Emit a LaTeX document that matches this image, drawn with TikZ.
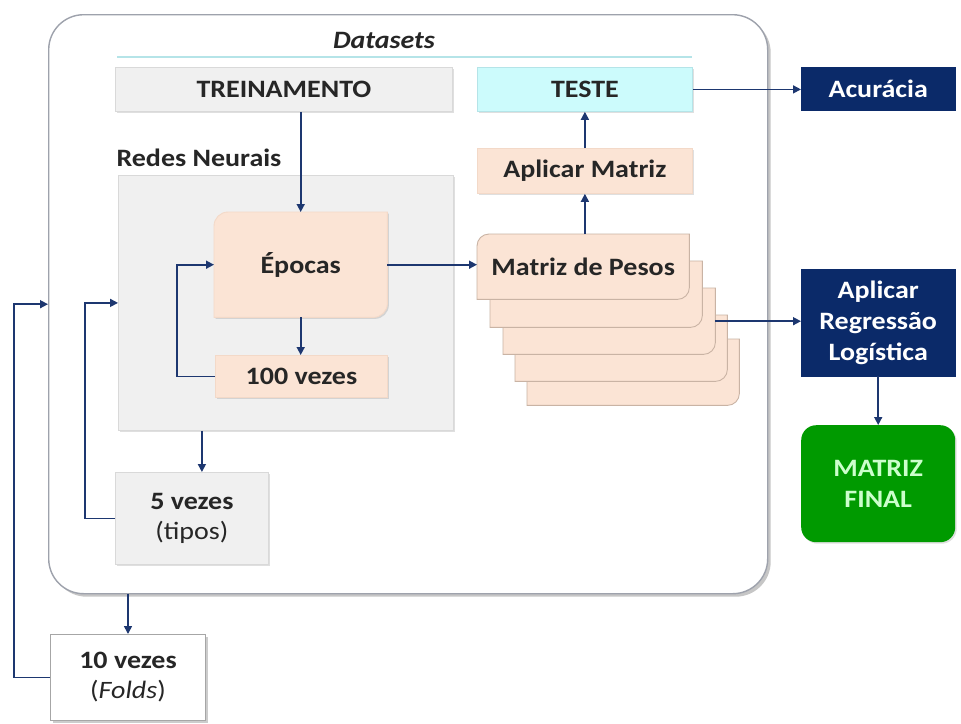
\documentclass[tikz,border=0pt]{standalone}
\usepackage{fontspec}
\setmainfont{Carlito}[FakeStretch=1.12]
\usetikzlibrary{arrows.meta,shadows,calc}
\definecolor{navy}{HTML}{0B2A69}
\definecolor{arr}{HTML}{1D3770}
\definecolor{peach}{HTML}{FBE4D5}
\definecolor{peachline}{HTML}{C9B3A4}
\definecolor{peachlight}{HTML}{F3D9C8}
\definecolor{lgray}{HTML}{F0F0F0}
\definecolor{gline}{HTML}{D9D9D9}
\definecolor{cyanf}{HTML}{CCFBFC}
\definecolor{cyanline}{HTML}{B5E4E8}
\definecolor{greenf}{HTML}{009A00}
\definecolor{greent}{HTML}{CCFFCC}
\definecolor{txt}{HTML}{262626}
\definecolor{outerline}{HTML}{9EA2AC}
\newcommand\cardshape[3]{%
  \draw[#1] (#2.south west) [rounded corners=#3] -- (#2.north west) [sharp corners] -- (#2.north east) [rounded corners=#3] -- (#2.south east) [sharp corners] -- (#2.south west) -- cycle;}
\begin{document}
\begin{tikzpicture}[x=1pt,y=-1pt,
  font=\fontsize{25}{31}\selectfont\bfseries, text=txt,
  conn/.style={arr, line width=1.6pt, -{Triangle[length=8pt,width=8pt]}},
  box/.style={rectangle, inner sep=0pt, anchor=north west, align=center},
  soft/.style={drop shadow={shadow xshift=1.5pt,shadow yshift=-1.5pt,opacity=0.25}},
  graybox/.style={box, fill=lgray, draw=gline, line width=0.8pt, soft},
  peachbox/.style={box, fill=peach, draw=peachlight, line width=0.8pt, soft},
  navybox/.style={box, fill=navy, draw=navy, text=white},
  card/.style={fill=peach, draw=peachline, line width=0.9pt},
]
\useasboundingbox (0,0) rectangle (961,723);

% outer Datasets container
\node[box, fill=white, draw=outerline, line width=1.4pt, rounded corners=35pt,
      minimum width=719pt, minimum height=579pt,
      drop shadow={shadow xshift=3pt,shadow yshift=-3pt,opacity=0.45,fill=gray}] (outer) at (48,14) {};
\node[font=\fontsize{25}{28}\selectfont\bfseries\itshape] (dstitle) at (384,40) {Datasets};
\coordinate (dl) at (117,57);
\coordinate (dr) at (692,57);
\draw[cyanline, line width=2pt] (dl) -- (dr);

% top row
\node[graybox, minimum width=337pt, minimum height=44pt] (treino) at (115,67) {TREINAMENTO};
\node[box, fill=cyanf, draw=cyanline, line width=0.8pt, soft, minimum width=215pt, minimum height=44pt] (teste) at (477,67) {TESTE};
\node[navybox, minimum width=154pt, minimum height=43pt] (acur) at (801,67) {Acurácia};
\node[peachbox, minimum width=215pt, minimum height=45pt] (aplicm) at (477,148) {Aplicar Matriz};

% Redes Neurais
\node[anchor=west] (redeslbl) at (113,158) {Redes Neurais};
\node[graybox, minimum width=335pt, minimum height=255pt] (redes) at (118,175) {};

% Epocas
\node[box, minimum width=173pt, minimum height=105pt] (epocas) at (214,212) {};
\cardshape{card, draw=peachlight, soft}{epocas}{14pt}
\node (epocasT) at (epocas.center) {Épocas};
\node[peachbox, minimum width=172pt, minimum height=42pt] (cem) at (215,355) {100 vezes};

% 5 vezes
\node[graybox, minimum width=153pt, minimum height=92pt] (cinco) at (115,472) {5 vezes\\[-1pt]{\mdseries(tipos)}};

% 10 vezes
\node[box, fill=white, draw=gray!70, line width=1pt,
      drop shadow={shadow xshift=2pt,shadow yshift=-2pt,opacity=0.4,fill=gray},
      minimum width=155pt, minimum height=86pt] (dez) at (50,634) {10 vezes\\[-1pt]{\mdseries(\textit{Folds})}};

% Matriz de Pesos stack
\node[box, minimum width=212pt, minimum height=66pt] (mp5) at (527,339) {};
\node[box, minimum width=212pt, minimum height=66pt] (mp4) at (515,315) {};
\node[box, minimum width=212pt, minimum height=66pt] (mp3) at (503,288) {};
\node[box, minimum width=212pt, minimum height=66pt] (mp2) at (490,261) {};
\node[box, minimum width=212pt, minimum height=65pt] (mp1) at (477,234) {};
\cardshape{card}{mp5}{12pt}
\cardshape{card}{mp4}{12pt}
\cardshape{card}{mp3}{12pt}
\cardshape{card}{mp2}{12pt}
\cardshape{card}{mp1}{12pt}
\node (mp1T) at (mp1.center) {Matriz de Pesos};

% right column
\node[navybox, minimum width=154pt, minimum height=107pt] (aplreg) at (801,269) {Aplicar\\Regressão\\Logística};
\node[box, fill=greenf, rounded corners=15pt, text=greent, soft, minimum width=154pt, minimum height=117pt] (final) at (801,425) {MATRIZ\\FINAL};

% connectors
\draw[conn] (epocas.north |- treino.south) -- (epocas.north);
\draw[conn] (epocas.south) -- (epocas.south |- cem.north);
\draw[conn] (cem.west) -- ++(-38,0) |- (epocas.west);
\draw[conn] (epocas.east) -- (epocas.east -| mp1.west);
\draw[conn] (aplicm.south |- mp1.north) -- (aplicm.south);
\draw[conn] (aplicm.north) -- (teste.south);
\draw[conn] (teste.east) -- (teste.east -| acur.west);
\draw[conn] (mp3.east) -- (mp3.east -| aplreg.west);
\draw[conn] (aplreg.south) -- (final.north);
\draw[conn] ([xshift=10pt]cinco.north |- redes.south) -- ([xshift=10pt]cinco.north);
\draw[conn] (cinco.west) -- ++(-30,0) |- (redes.west);
\draw[conn] (dez.north |- outer.south) -- (dez.north);
\draw[conn] (dez.west) -- ++(-36,0) |- (outer.west);
\end{tikzpicture}
\end{document}
